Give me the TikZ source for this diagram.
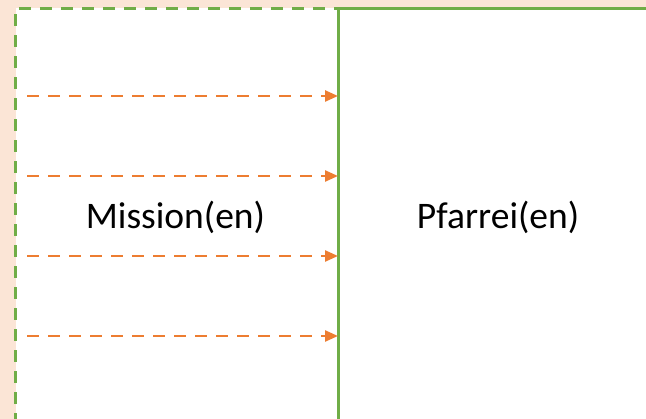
\documentclass[tikz,border=0pt]{standalone}
\usepackage{fontspec}
\setmainfont{Carlito}
\usetikzlibrary{arrows.meta}
\definecolor{peach}{HTML}{FBE5D6}
\definecolor{grn}{HTML}{70AD47}
\definecolor{orng}{HTML}{ED7D31}
\tikzset{
  greenline/.style={draw=grn, line width=3pt},
  greendash/.style={greenline, dash pattern=on 12pt off 9pt},
  flowarrow/.style={draw=orng, line width=2.4pt, dash pattern=on 12pt off 9pt,
    -{Triangle[length=13pt,width=11pt]}},
  label/.style={font=\fontsize{37.5}{45}\selectfont, inner sep=0pt, anchor=base}
}
\begin{document}
\begin{tikzpicture}[x=1pt,y=1pt]
\useasboundingbox (0,0) rectangle (646,-419);
\fill[peach] (0,0) rectangle (646,-419);
\fill[white] (15.5,-8.5) rectangle (646,-419);
% right box (solid)
\draw[greenline] (338,-425) -- (338,-8.5) -- (652,-8.5);
% left box (dashed)
\draw[greendash] (15.5,-425) -- (15.5,-8.5) -- (338,-8.5) -- (338,-425);
% arrows
\foreach \i/\y in {1/96,2/176,3/256,4/336}{
  \coordinate (s\i) at (27,-\y);
  \coordinate (e\i) at (338,-\y);
  \draw[flowarrow] (s\i) -- (e\i);
}
\node[label] (mission) at (175.5,-229) {Mission(en)};
\node[label] (pfarrei) at (498,-229) {Pfarrei(en)};
\end{tikzpicture}
\end{document}
